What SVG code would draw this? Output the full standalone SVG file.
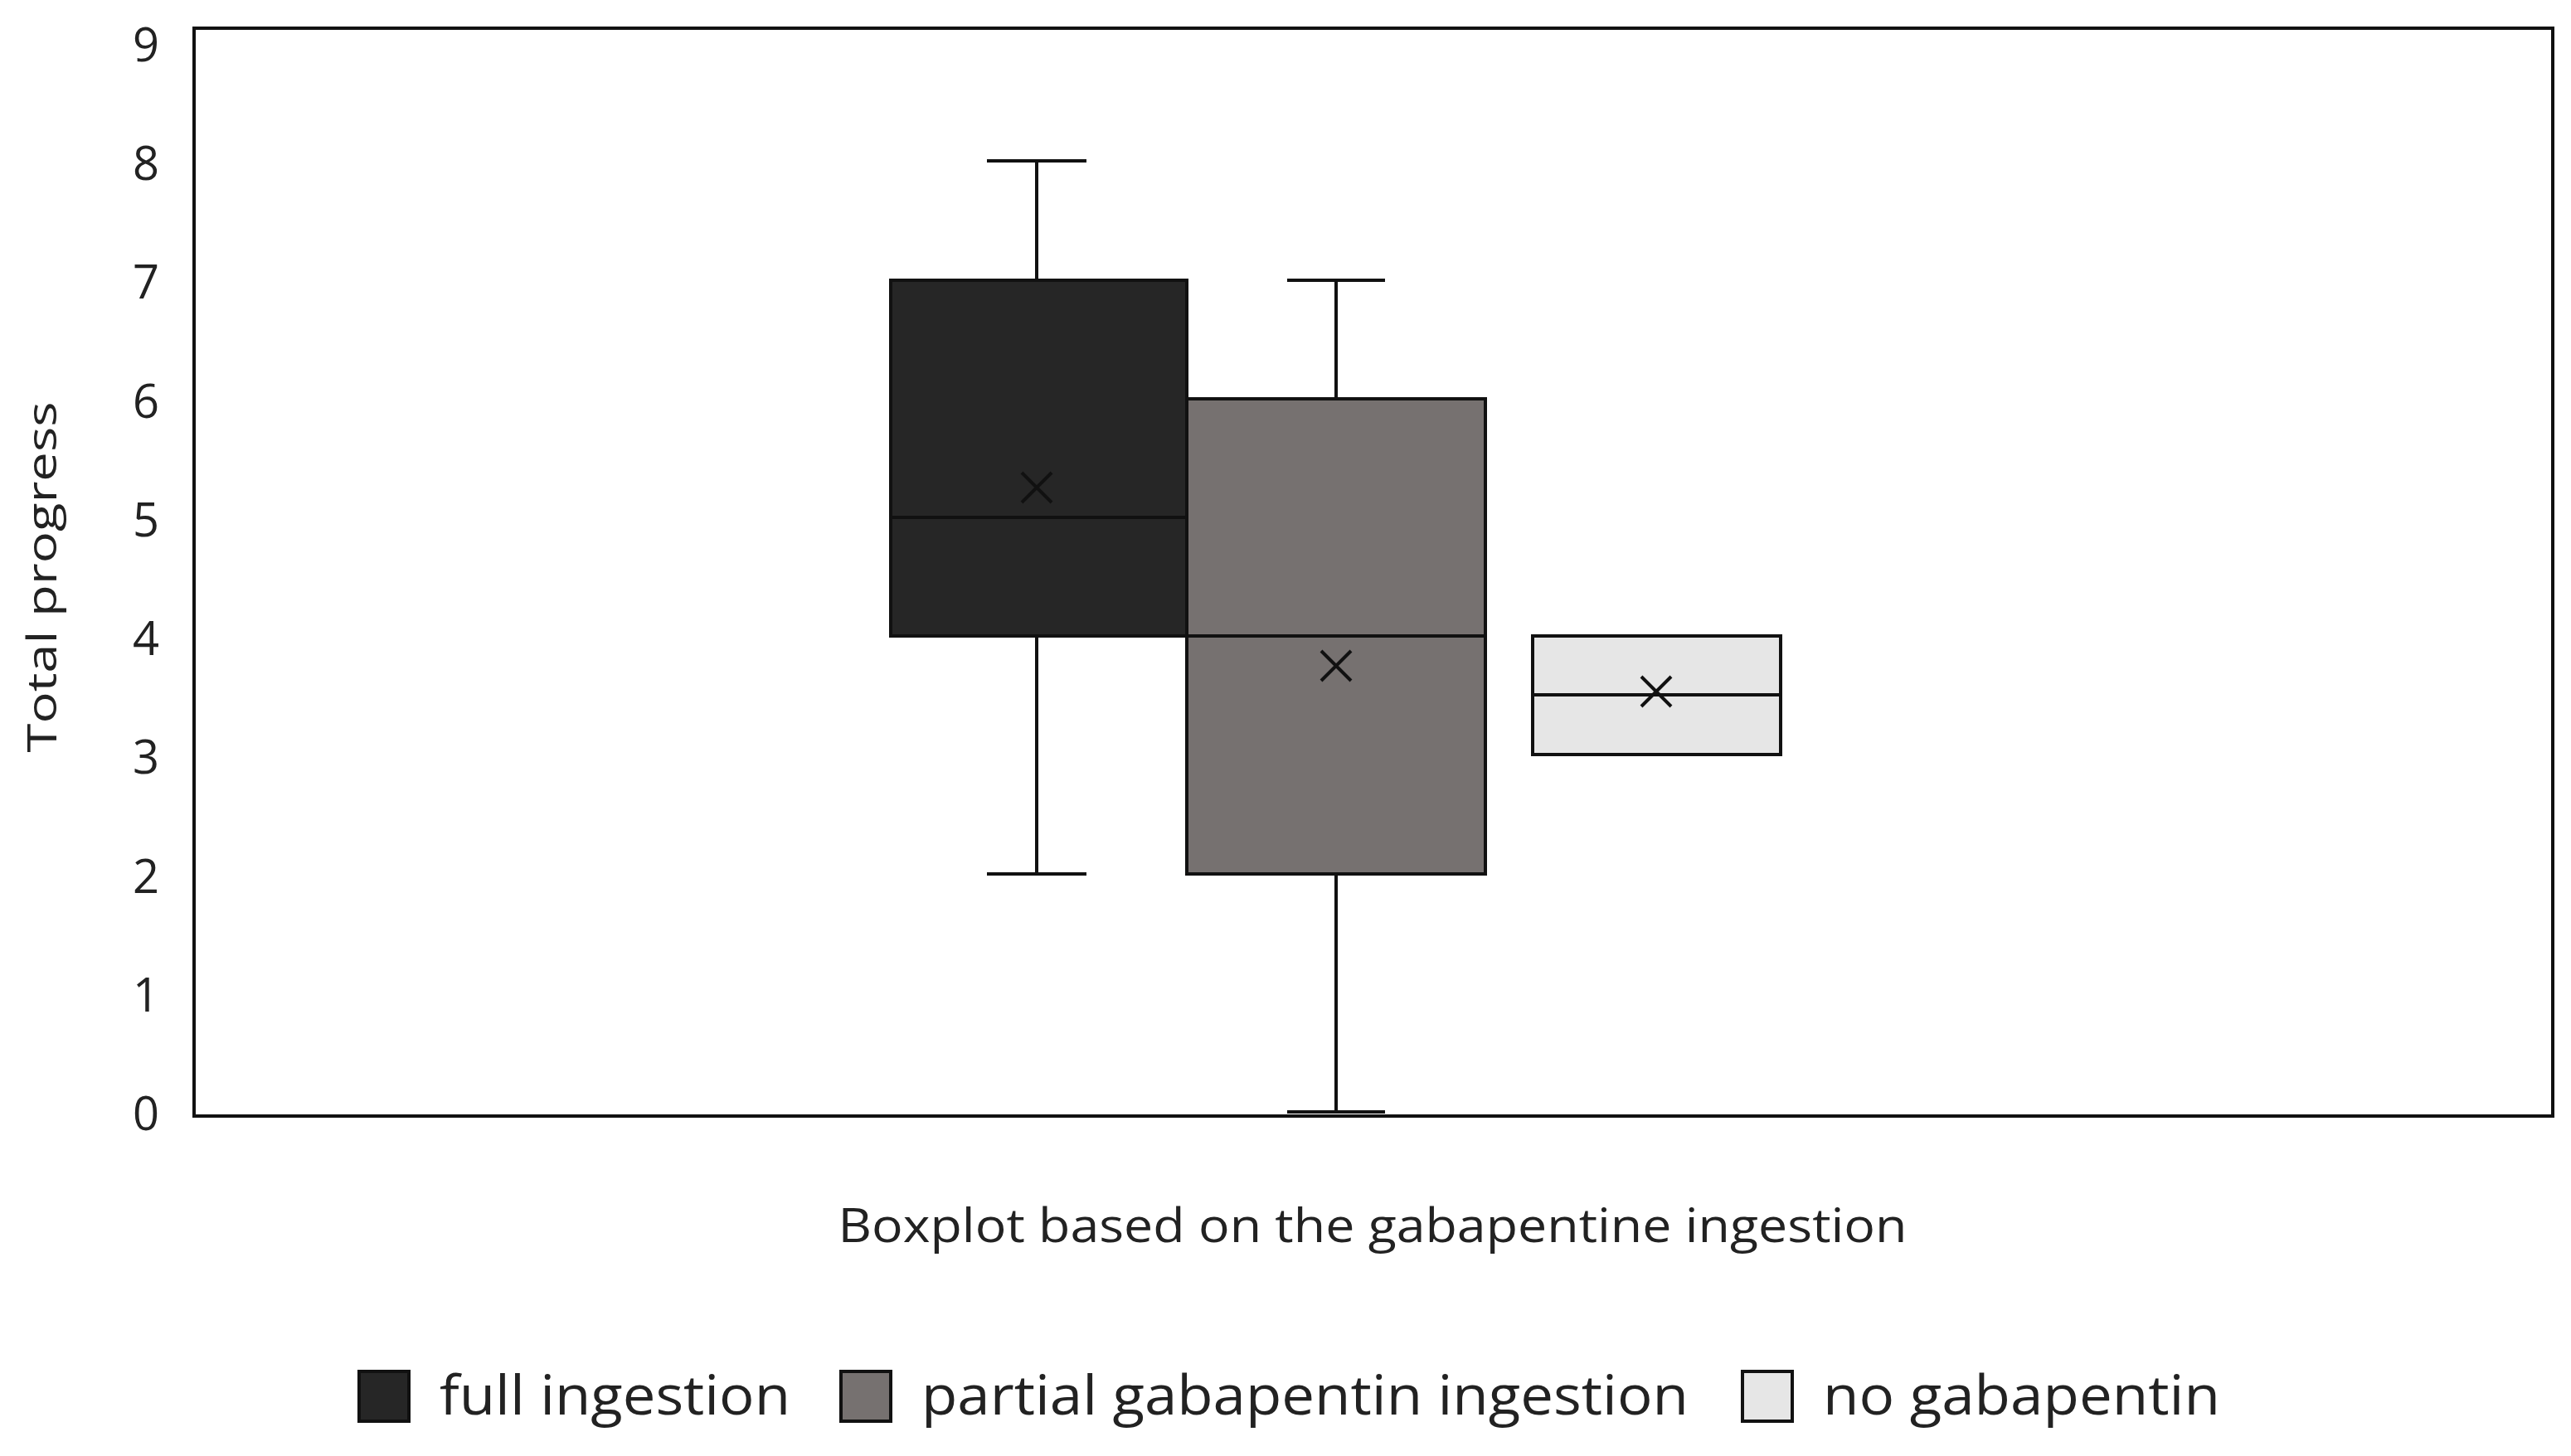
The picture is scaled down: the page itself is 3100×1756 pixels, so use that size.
<svg xmlns="http://www.w3.org/2000/svg" width="3100" height="1756" viewBox="0 0 3100 1756">
<style>
.t{font-family:"Open Sans","Liberation Sans",sans-serif;fill:#222}
.ln{stroke:#111;stroke-width:4;fill:none}
.bx{stroke:#111;stroke-width:4}
</style>
<rect width="3100" height="1756" fill="#fff"/>
<g id="axes">
<rect x="234" y="34" width="2844" height="1312" fill="none" stroke="#111" stroke-width="4"/>
<g class="t" font-size="56" text-anchor="middle">
<text x="176" y="1363">0</text><text x="176" y="1220">1</text><text x="176" y="1077">2</text><text x="176" y="933">3</text><text x="176" y="790">4</text><text x="176" y="647">5</text><text x="176" y="504">6</text><text x="176" y="360">7</text><text x="176" y="217">8</text><text x="176" y="74">9</text>
</g>
<text class="t" font-size="50" text-anchor="middle" transform="translate(68,696) rotate(-90)" textLength="423" lengthAdjust="spacingAndGlyphs">Total progress</text>
<text class="t" x="1655" y="1498" font-size="56" text-anchor="middle" textLength="1289" lengthAdjust="spacingAndGlyphs">Boxplot based on the gabapentine ingestion</text>
</g>
<g id="full">
<path class="ln" d="M1250 338V194M1190 194H1310M1250 767V1054M1190 1054H1310"/>
<rect class="bx" x="1074" y="338" width="357" height="429" fill="#262626"/>
<path class="ln" d="M1074 624H1431M1232 570l36 36M1268 570l-36 36"/>
</g>
<g id="partial">
<path class="ln" d="M1611 481V338M1552 338H1670M1611 1054V1341M1552 1341H1670"/>
<rect class="bx" x="1431" y="481" width="360" height="573" fill="#767170"/>
<path class="ln" d="M1431 767H1791M1593 785l36 36M1629 785l-36 36"/>
</g>
<g id="none">
<rect class="bx" x="1848" y="767" width="299" height="143" fill="#e6e6e6"/>
<path class="ln" d="M1848 838H2147M1979 816l36 36M2015 816l-36 36"/>
</g>
<g id="legend">
<rect class="bx" x="433" y="1654" width="60" height="60" fill="#262626"/>
<text class="t" x="530" y="1706" font-size="66" textLength="423" lengthAdjust="spacingAndGlyphs">full ingestion</text>
<rect class="bx" x="1014" y="1654" width="60" height="60" fill="#767170"/>
<text class="t" x="1111" y="1706" font-size="66" textLength="925" lengthAdjust="spacingAndGlyphs">partial gabapentin ingestion</text>
<rect class="bx" x="2101" y="1654" width="60" height="60" fill="#e6e6e6"/>
<text class="t" x="2198" y="1706" font-size="66" textLength="479" lengthAdjust="spacingAndGlyphs">no gabapentin</text>
</g>
</svg>
